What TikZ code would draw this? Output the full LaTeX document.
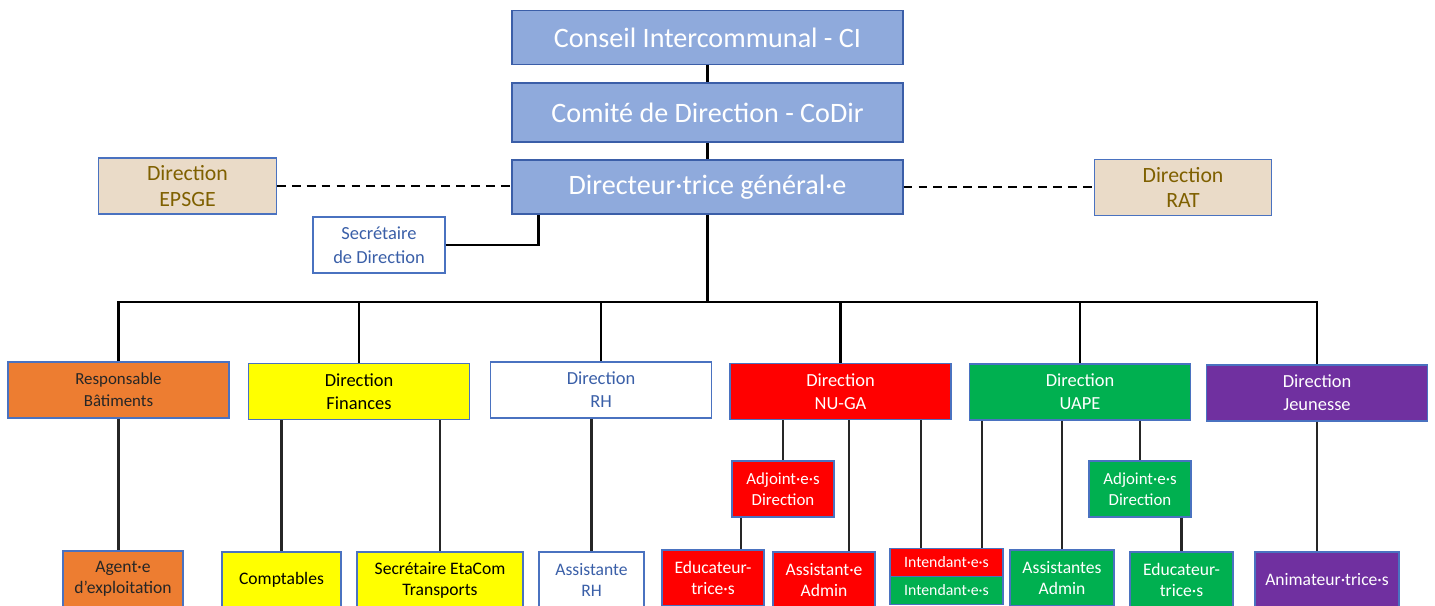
\documentclass[tikz,border=0pt]{standalone}
\usepackage{fontspec}
\setmainfont{Carlito}
\usepackage{tikz}
\usetikzlibrary{calc}
\definecolor{topblue}{HTML}{8FAADC}
\definecolor{topedge}{HTML}{3B5EA8}
\definecolor{edgeblue}{HTML}{4A72C0}
\definecolor{tanfill}{HTML}{EADBC8}
\definecolor{goldtext}{HTML}{7F6000}
\definecolor{bluetext}{HTML}{3A5FA8}
\definecolor{orangefill}{HTML}{ED7D31}
\definecolor{yellowfill}{HTML}{FFFF00}
\definecolor{redfill}{HTML}{FF0000}
\definecolor{greenfill}{HTML}{00B050}
\definecolor{purplefill}{HTML}{7030A0}

\begin{document}
\begin{tikzpicture}[x=0.02cm,y=-0.02cm,
	box/.style={draw=edgeblue,line width=0.7pt,inner sep=0pt,align=center,minimum height=1.12cm},
	topbox/.style={box,fill=topblue,draw=topedge,text=white,minimum width=7.82cm,minimum height=1.08cm,font=\fontsize{16}{19}\selectfont},
	sidebox/.style={box,fill=tanfill,text=goldtext,minimum width=3.55cm,font=\fontsize{12.4}{14.7}\selectfont},
	dirbox/.style={box,minimum width=4.42cm,font=\fontsize{10.5}{13}\selectfont},
	subbox/.style={box,font=\fontsize{10}{12}\selectfont},
	link/.style={line width=1.6pt},
	sublink/.style={line width=1.2pt,draw=black!85}]
	\clip (0,0) rectangle (1435,605);

	\node[topbox] at (707.5,37.5) (ci) {Conseil Intercommunal - CI};
	\node[topbox,minimum height=1.18cm] at (707.5,112.5) (codir) {Comité de Direction - CoDir};
	\node[topbox] at (707.5,187) (dg) {Directeur·trice général·e};
	\node[sidebox] at (187.5,186) (epsge) {Direction\\EPSGE};
	\node[sidebox] at (1183,187.5) (rat) {Direction\\RAT};
	\node[box,fill=white,text=bluetext,minimum width=2.64cm,font=\fontsize{10.5}{13.4}\selectfont] at (379,245) (sec) {Secrétaire\\de Direction};

	\node[dirbox,fill=orangefill,text=black!85,font=\fontsize{9.6}{12.5}\selectfont] at (118.5,390) (resp) {Responsable\\Bâtiments};
	\node[dirbox,fill=yellowfill,text=black] at (359,391.5) (fin) {Direction\\Finances};
	\node[dirbox,fill=white,text=bluetext] at (601,390) (rh) {Direction\\RH};
	\node[dirbox,fill=redfill,text=white] at (840.5,391.5) (nuga) {Direction\\NU-GA};
	\node[dirbox,fill=greenfill,text=white] at (1080,392) (uape) {Direction\\UAPE};
	\node[dirbox,fill=purplefill,text=white] at (1317,393) (jeun) {Direction\\Jeunesse};

	\node[subbox,fill=redfill,text=white,minimum width=2.04cm,font=\fontsize{9.6}{12}\selectfont] at (783,489) (adjnu) {Adjoint·e·s\\Direction};
	\node[subbox,fill=greenfill,text=white,minimum width=2.04cm,font=\fontsize{9.6}{12}\selectfont] at (1140,489) (adjua) {Adjoint·e·s\\Direction};

	\node[subbox,fill=orangefill,text=black!85,minimum width=2.4cm] at (123,579) (agent) {Agent·e\\d’exploitation};
	\node[subbox,fill=yellowfill,text=black,minimum width=2.38cm] at (281.5,580) (comp) {Comptables};
	\node[subbox,fill=yellowfill,text=black,minimum width=3.32cm] at (440,580) (eta) {Secrétaire EtaCom\\Transports};
	\node[subbox,fill=white,text=bluetext,minimum width=2.1cm] at (591.5,580) (asrh) {Assistante\\RH};
	\node[subbox,fill=redfill,text=white,minimum width=2.04cm] at (713,578) (educnu) {Educateur-\\trice·s};
	\node[subbox,fill=redfill,text=white,minimum width=2.04cm] at (824,580) (assnu) {Assistant·e\\Admin};
	\node[subbox,fill=redfill,text=white,minimum width=2.26cm,minimum height=0.56cm,font=\fontsize{9}{11}\selectfont] at (946.5,562.5) (intr) {Intendant·e·s};
	\node[subbox,fill=greenfill,text=white,minimum width=2.26cm,minimum height=0.56cm,font=\fontsize{9}{11}\selectfont] at (946.5,590.5) (intg) {Intendant·e·s};
	\node[subbox,fill=greenfill,text=white,minimum width=2.08cm] at (1062,578) (assua) {Assistantes\\Admin};
	\node[subbox,fill=greenfill,text=white,minimum width=2.06cm] at (1181.5,580) (educua) {Educateur-\\trice·s};
	\node[subbox,fill=purplefill,text=white,minimum width=2.88cm] at (1327,580) (anim) {Animateur·trice·s};

	\draw[link] (ci) -- (codir);
	\draw[link] (codir) -- (dg);
	\draw[link,dash pattern=on 5pt off 3.5pt] (epsge.east) -- (epsge.east -| dg.west);
	\draw[link,dash pattern=on 5pt off 3.5pt] (dg.east) -- (dg.east -| rat.west);
	\draw[link] (sec.east) -| ($(dg.south west)+(27,0)$);

	\coordinate (bus) at (707.5,302);
	\draw[link] (dg.south) -- (bus);
	\draw[link] (resp.north) -- (resp.north |- bus) -- (jeun.north |- bus) -- (jeun.north);
	\foreach \n in {fin,rh,nuga,uape}
		\draw[link] (\n.north |- bus) -- (\n.north);

	\draw[sublink] (resp.south) -- (resp.south |- agent.north);
	\draw[sublink] (comp.north |- fin.south) -- (comp.north);
	\draw[sublink] (eta.north |- fin.south) -- (eta.north);
	\draw[sublink] (asrh.north |- rh.south) -- (asrh.north);
	\draw[sublink] (adjnu.north |- nuga.south) -- (adjnu.north);
	\coordinate (e1) at ($(educnu.north)+(28,0)$);
	\draw[sublink] (e1 |- adjnu.south) -- (e1);
	\coordinate (e2) at ($(assnu.north)+(25,0)$);
	\draw[sublink] (e2 |- nuga.south) -- (e2);
	\coordinate (e3) at ($(intr.north)+(-25.5,0)$);
	\draw[sublink] (e3 |- nuga.south) -- (e3);
	\coordinate (e4) at ($(intr.north)+(35.5,0)$);
	\draw[sublink] (e4 |- uape.south) -- (e4);
	\draw[sublink] (assua.north |- uape.south) -- (assua.north);
	\draw[sublink] (adjua.north |- uape.south) -- (adjua.north);
	\draw[sublink] (educua.north |- adjua.south) -- (educua.north);
	\draw[sublink] (jeun.south) -- (jeun.south |- anim.north);
\end{tikzpicture}
\end{document}
